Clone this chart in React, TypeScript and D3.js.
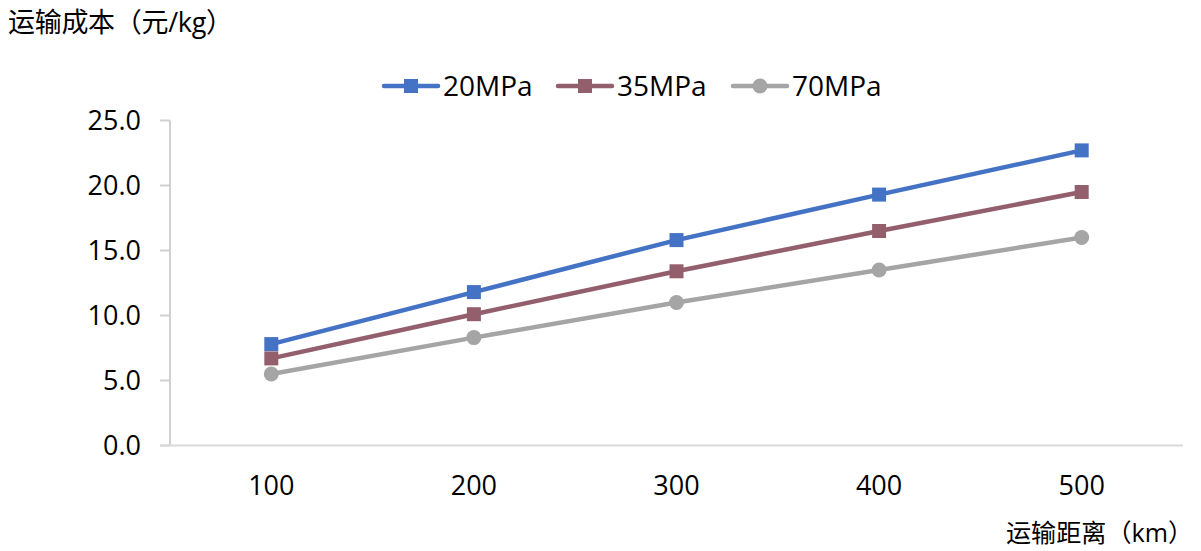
import React from "react";
import * as d3 from "d3";

const categories = ["100", "200", "300", "400", "500"];
const s20 = [7.8, 11.8, 15.8, 19.3, 22.7];
const s35 = [6.7, 10.1, 13.4, 16.5, 19.5];
const s70 = [5.5, 8.3, 11.0, 13.5, 16.0];
const seriesNames = ["20MPa", "35MPa", "70MPa"];
const yTicks = [0, 5, 10, 15, 20, 25];
const yTitle = "运输成本（元/kg）";
const xTitle = "运输距离（km）";

const W = 1201, H = 551;
const FONT = "'Open Sans', 'Noto Sans CJK SC', sans-serif";

export default function App() {
  const x = d3.scaleBand<string>().domain(categories).range([170, 1183]);
  const y = d3.scaleLinear().domain([0, 25]).range([445.5, 120.5]);
  const series = [
    { name: seriesNames[0], values: s20, color: "#4472C4", marker: "square" },
    { name: seriesNames[1], values: s35, color: "#945F6D", marker: "square" },
    { name: seriesNames[2], values: s70, color: "#A5A5A5", marker: "circle" },
  ];
  const line = d3
    .line<number>()
    .x((_, i) => (x(categories[i]) as number) + x.bandwidth() / 2)
    .y((d) => y(d));
  const legendX = [384, 558, 733];
  const marker = (kind: string, cx: number, cy: number, color: string, key?: any) =>
    kind === "square" ? (
      <rect key={key} x={cx - 7} y={cy - 7} width={14} height={14} fill={color} />
    ) : (
      <circle key={key} cx={cx} cy={cy} r={7.5} fill={color} />
    );
  return (
    <svg width={W} height={H} style={{ position: "absolute", left: 0, top: 0 }} fontFamily={FONT}>
      <rect width={W} height={H} fill="#fff" />
      <text x={8} y={32} fontSize={27} fill="#000" textLength={225} lengthAdjust="spacing">{yTitle}</text>
      {/* axes */}
      <line x1={170} x2={170} y1={y(25)} y2={y(0)} stroke="#D0D0D0" strokeWidth={2} />
      {yTicks.map((t) => (
        <g key={t}>
          <line x1={160} x2={170} y1={y(t)} y2={y(t)} stroke="#D0D0D0" strokeWidth={2} />
          <text x={141} y={y(t)} dy="0.35em" textAnchor="end" fontSize={27} fill="#000">
            {t.toFixed(1)}
          </text>
        </g>
      ))}
      <line x1={160} x2={1183} y1={y(0)} y2={y(0)} stroke="#D9D9D9" strokeWidth={2} />
      {categories.map((c) => (
        <text key={c} x={(x(c) as number) + x.bandwidth() / 2} y={486} dy="0.35em" textAnchor="middle" fontSize={27} fill="#000">
          {c}
        </text>
      ))}
      <text x={1006} y={542} fontSize={25} fill="#000" textLength={187} lengthAdjust="spacingAndGlyphs">{xTitle}</text>
      {/* series */}
      {series.map((s) => (
        <g key={s.name}>
          <path d={line(s.values) as string} fill="none" stroke={s.color} strokeWidth={4.5} strokeLinejoin="round" />
          {s.values.map((v, i) =>
            marker(s.marker, (x(categories[i]) as number) + x.bandwidth() / 2, y(v), s.color, i)
          )}
        </g>
      ))}
      {/* legend */}
      {series.map((s, k) => (
        <g key={s.name}>
          <line x1={legendX[k]} x2={legendX[k] + 54} y1={86} y2={86} stroke={s.color} strokeWidth={4.5} strokeLinecap="round" />
          {marker(s.marker, legendX[k] + 27, 86, s.color)}
          <text x={legendX[k] + 59} y={86} dy="0.35em" fontSize={28} fill="#000">{s.name}</text>
        </g>
      ))}
    </svg>
  );
}
